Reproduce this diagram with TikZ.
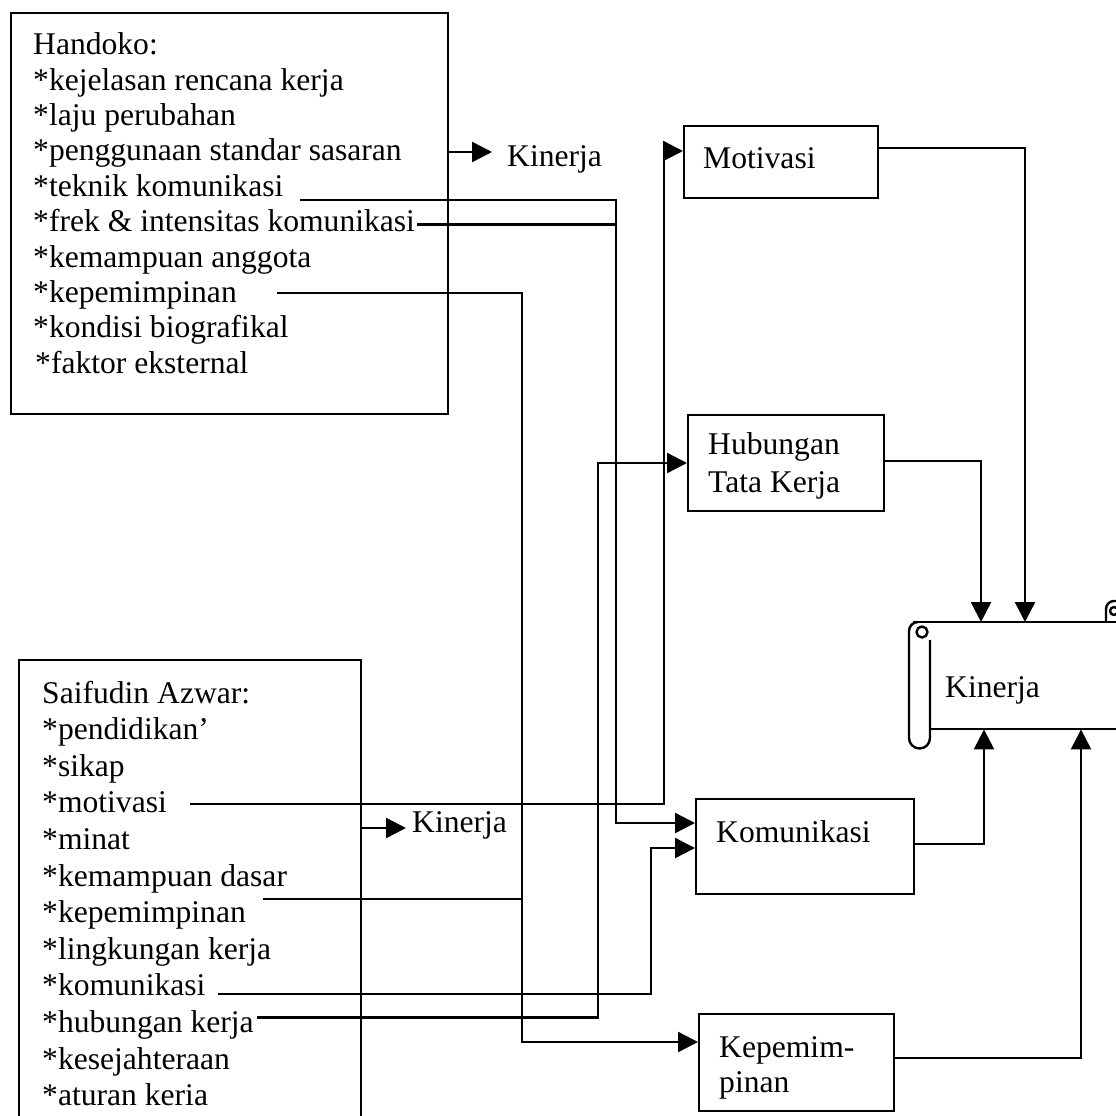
\documentclass[tikz,border=0pt]{standalone}
\usepackage{fontspec}
\setmainfont{Liberation Serif}
\usetikzlibrary{arrows.meta,calc}
\begin{document}
\begin{tikzpicture}[x=1pt,y=-1pt,
  box/.style={draw, line width=2.2pt, inner sep=0pt, anchor=north west},
  txt/.style={inner sep=0pt, anchor=base west, font=\fontsize{31.6}{36}\selectfont},
  wire/.style={line width=2.4pt},
  arr/.style={wire, -{Triangle[length=20pt,width=20pt]}},
  scroll/.style={line width=2.4pt, line join=round}]
\useasboundingbox (0,0) rectangle (1116,1116);
\clip (0,0) rectangle (1116,1116);

% ---------- source lists ----------
\node[box, minimum width=437pt, minimum height=401pt] (hbox) at (10,12) {};
\node[txt] (h0) at (33,55)    {Handoko:};
\node[txt] (h1) at (33,90)    {*kejelasan rencana kerja};
\node[txt] (h2) at (33,125.4) {*laju perubahan};
\node[txt] (h3) at (33,160.8) {*penggunaan standar sasaran};
\node[txt] (h4) at (33,196.2) {*teknik komunikasi};
\node[txt] (h5) at (33,231.6) {*frek \& intensitas komunikasi};
\node[txt] (h6) at (33,267)   {*kemampuan anggota};
\node[txt] (h7) at (33,302.4) {*kepemimpinan};
\node[txt] (h8) at (33,337.8) {*kondisi biografikal};
\node[txt] (h9) at (35,373.2) {*faktor eksternal};

\node[box, minimum width=342pt, minimum height=520pt] (sbox) at (18,659) {};
\node[txt] (s0)  at (42,703)    {Saifudin Azwar:};
\node[txt] (s1)  at (42,739.6)  {*pendidikan’};
\node[txt] (s2)  at (42,776.2)  {*sikap};
\node[txt] (s3)  at (42,812.8)  {*motivasi};
\node[txt] (s4)  at (42,849.4)  {*minat};
\node[txt] (s5)  at (42,886)    {*kemampuan dasar};
\node[txt] (s6)  at (42,922.6)  {*kepemimpinan};
\node[txt] (s7)  at (42,959.2)  {*lingkungan kerja};
\node[txt] (s8)  at (42,995.8)  {*komunikasi};
\node[txt] (s9)  at (42,1032.4) {*hubungan kerja};
\node[txt] (s10) at (42,1069)   {*kesejahteraan};
\node[txt] (s11) at (42,1105.6) {*aturan keria};

\node[txt] (k1) at (507,166) {Kinerja};
\node[txt] (k2) at (412,832) {Kinerja};

% ---------- factor boxes ----------
\node[box, minimum width=194pt, minimum height=72pt] (mot) at (683,125) {};
\node[txt] (motl) at (703,168) {Motivasi};
\node[box, minimum width=196pt, minimum height=96pt] (hub) at (687,414) {};
\node[txt] (hubl1) at (708,454) {Hubungan};
\node[txt] (hubl2) at (708,492) {Tata Kerja};
\node[box, minimum width=218pt, minimum height=95pt] (kom) at (695,798) {};
\node[txt] (koml) at (716,842) {Komunikasi};
\node[box, minimum width=195pt, minimum height=97pt] (kep) at (698,1013) {};
\node[txt] (kepl1) at (719,1057) {Kepemim-};
\node[txt] (kepl2) at (719,1092) {pinan};

% ---------- result scroll ----------
\node[inner sep=0pt, minimum width=186pt, minimum height=107pt, anchor=north west] (ks) at (930,622) {};
\node[txt] (ksl) at (945,697) {Kinerja};
\draw[scroll] (913,622) -- (1122,622);
\draw[scroll] (930,729) -- (1122,729);
\draw[scroll] (930,640) -- (930,738) arc[start angle=0,end angle=180,radius=10.5]
  -- (909,631) arc[start angle=180,end angle=270,radius=9];
\draw[scroll] (922,632) circle[radius=5.5];
\draw[scroll] (1106,622) -- (1106,609) arc[start angle=180,end angle=270,radius=8] -- (1122,601);
\draw[scroll] (1114,611) circle[radius=4];

% ---------- helper points ----------
\coordinate (k1tip) at ($(k1.base west)+(-15,-14)$);
\coordinate (k2tip) at ($(k2.base west)+(-6,-4)$);

\coordinate (railKep) at (522,0);
\coordinate (railHub) at (598,0);
\coordinate (railTek) at (616,0);
\coordinate (railKom) at (651,0);
\coordinate (railMot) at (664,0);

\coordinate (motIn)  at ($(mot.north west)+(0,26)$);
\coordinate (hubIn)  at ($(hub.north west)+(0,49)$);
\coordinate (komInA) at ($(kom.north west)+(0,25)$);
\coordinate (komInB) at ($(kom.north west)+(0,50)$);
\coordinate (kepIn)  at ($(kep.north west)+(0,29)$);

\coordinate (hTek)  at (300,200);
\coordinate (hFrek) at ($(h5.base east)+(2,-7)$);
\coordinate (hKep)  at (277,293);
\coordinate (sMot)  at (190,804);
\coordinate (sKep)  at (263,899);
\coordinate (sKom)  at (218,994);
\coordinate (sHub)  at ($(s9.base east)+(3,-15)$);

\coordinate (motOut) at ($(mot.north east)+(0,23)$);
\coordinate (hubOut) at ($(hub.north east)+(0,47)$);
\coordinate (komOut) at ($(kom.north east)+(0,46)$);
\coordinate (kepOut) at ($(kep.north east)+(0,45)$);
\coordinate (rMot) at (1025,0);
\coordinate (rHub) at (981,0);
\coordinate (rKom) at (984,0);
\coordinate (rKep) at (1081,0);

% ---------- connectors ----------
\draw[arr] (hbox.east |- k1tip) -- (k1tip);
\draw[arr] (sbox.east |- k2tip) -- (k2tip);

\draw[arr]  (hTek)  -- (hTek -| railTek) |- (komInA);
\draw[wire] (hFrek) -- (hFrek -| railTek);
\draw[arr]  (hKep)  -- (hKep -| railKep) |- (kepIn);
\draw[wire] (sKep)  -- (sKep -| railKep);
\draw[arr]  (sMot)  -- (sMot -| railMot) |- (motIn);
\draw[arr]  (sKom)  -- (sKom -| railKom) |- (komInB);
\draw[arr]  (sHub)  -- (sHub -| railHub) |- (hubIn);

\draw[arr] (motOut) -- (motOut -| rMot) -- (rMot |- ks.north);
\draw[arr] (hubOut) -- (hubOut -| rHub) -- (rHub |- ks.north);
\draw[arr] (komOut) -- (komOut -| rKom) -- (rKom |- ks.south);
\draw[arr] (kepOut) -- (kepOut -| rKep) -- (rKep |- ks.south);
\end{tikzpicture}
\end{document}
